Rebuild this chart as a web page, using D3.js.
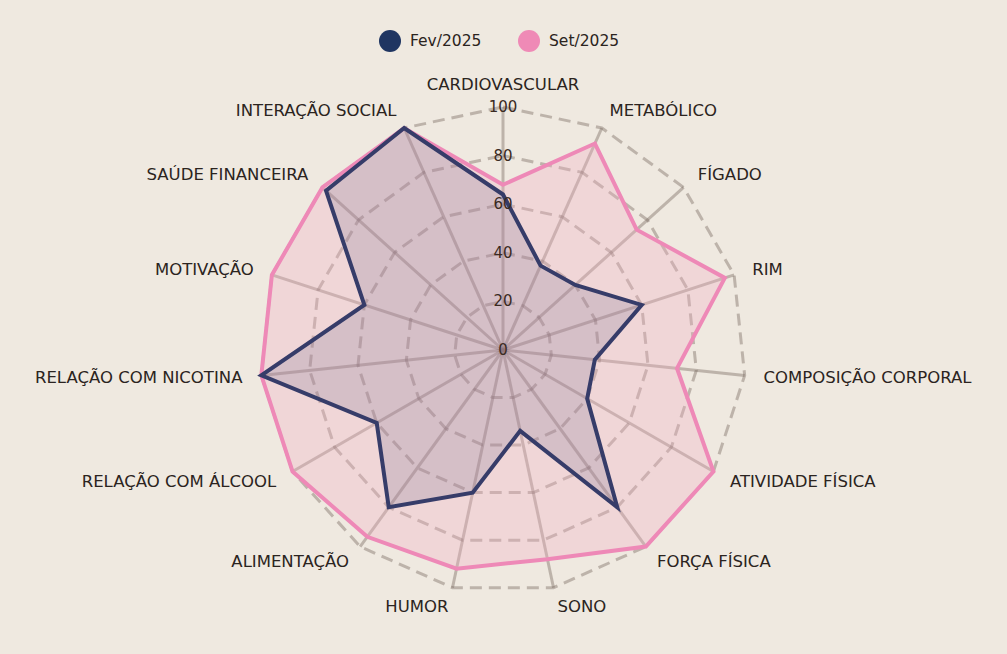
<!DOCTYPE html>
<html>
<head>
<meta charset="utf-8">
<script src="https://cdn.jsdelivr.net/npm/d3@7"></script>
<style>
  html, body { margin: 0; padding: 0; background: #efe9e0; }
  svg { display: block; font-family: "DejaVu Sans", sans-serif; }
</style>
</head>
<body>
<div id="chart"></div>
<script>
// categories, clockwise from the top
const categories = [
  "CARDIOVASCULAR", "METABÓLICO", "FÍGADO", "RIM", "COMPOSIÇÃO CORPORAL",
  "ATIVIDADE FÍSICA", "FORÇA FÍSICA", "SONO", "HUMOR", "ALIMENTAÇÃO",
  "RELAÇÃO COM ÁLCOOL", "RELAÇÃO COM NICOTINA", "MOTIVAÇÃO", "SAÚDE FINANCEIRA", "INTERAÇÃO SOCIAL"
];
const fev2025 = [64, 38, 40, 60, 38, 40, 80, 34, 60, 80, 60, 100, 60, 98, 100];
const set2025 = [68, 93, 74, 96, 72, 100, 100, 88, 92, 95, 100, 100, 100, 100, 100];
const ticks = [0, 20, 40, 60, 80, 100];
const seriesNames = ["Fev/2025", "Set/2025"];

const width = 1007, height = 654;
const cx = 503, cy = 350, radius = 243;

const svg = d3.select("#chart").append("svg")
  .attr("width", width)
  .attr("height", height);

svg.append("rect").attr("width", width).attr("height", height).attr("fill", "#efe9e0");

const r = d3.scaleLinear().domain([0, 100]).range([0, radius]);
const angle = d3.scaleLinear().domain([0, categories.length]).range([0, 2 * Math.PI]);

const g = svg.append("g").attr("transform", `translate(${cx},${cy})`);

const gridColor = "rgba(120,105,95,0.42)";

// dashed rings
const ring = d3.lineRadial()
  .angle((d, i) => angle(i))
  .radius(d => r(d))
  .curve(d3.curveLinearClosed);

g.selectAll(".ring")
  .data(ticks.filter(t => t > 0))
  .join("path")
  .attr("class", "ring")
  .attr("d", t => ring(categories.map(() => t)))
  .attr("fill", "none")
  .attr("stroke", gridColor)
  .attr("stroke-width", 3)
  .attr("stroke-dasharray", "12,7");

// spokes
g.selectAll(".spoke")
  .data(categories)
  .join("line")
  .attr("class", "spoke")
  .attr("x1", 0).attr("y1", 0)
  .attr("x2", (d, i) => r(100) * Math.sin(angle(i)))
  .attr("y2", (d, i) => -r(100) * Math.cos(angle(i)))
  .attr("stroke", gridColor)
  .attr("stroke-width", 3);

// series
const area = d3.lineRadial()
  .angle((d, i) => angle(i))
  .radius(d => r(d))
  .curve(d3.curveLinearClosed);

g.append("path")
  .attr("d", area(set2025))
  .attr("fill", "rgba(242,172,196,0.3)")
  .attr("stroke", "#ee89b7")
  .attr("stroke-width", 4)
  .attr("stroke-linejoin", "miter");

g.append("path")
  .attr("d", area(fev2025))
  .attr("fill", "rgba(60,62,110,0.15)")
  .attr("stroke", "#363c69")
  .attr("stroke-width", 4)
  .attr("stroke-linejoin", "miter");

// tick labels along the top spoke
g.selectAll(".tick")
  .data(ticks)
  .join("text")
  .attr("class", "tick")
  .attr("x", 0)
  .attr("y", t => -r(t))
  .attr("text-anchor", "middle")
  .attr("dominant-baseline", "central")
  .attr("font-size", 15)
  .attr("fill", "#3a2a22")
  .text(t => t);

// category labels
g.selectAll(".cat")
  .data(categories)
  .join("text")
  .attr("class", "cat")
  .each(function (d, i) {
    const a = angle(i);
    const x = (radius + 19) * Math.sin(a);
    const y = -(radius + 19) * Math.cos(a);
    const anchor = Math.abs(x) < 1 ? "middle" : (x > 0 ? "start" : "end");
    d3.select(this)
      .attr("x", x)
      .attr("y", i === 0 ? y - 4 : y)
      .attr("text-anchor", anchor);
  })
  .attr("dominant-baseline", "central")
  .attr("font-size", 16.5)
  .attr("fill", "#2b2420")
  .text(d => d);

// legend
const legend = svg.append("g");
const legendX = [390, 529];
const legendColors = ["#1f3561", "#ef8ab6"];
seriesNames.forEach((name, i) => {
  legend.append("circle")
    .attr("cx", legendX[i]).attr("cy", 41).attr("r", 11)
    .attr("fill", legendColors[i]);
  legend.append("text")
    .attr("x", legendX[i] + 20).attr("y", 41)
    .attr("dominant-baseline", "central")
    .attr("font-size", 15.5)
    .attr("fill", "#2b2420")
    .text(name);
});
</script>
</body>
</html>
